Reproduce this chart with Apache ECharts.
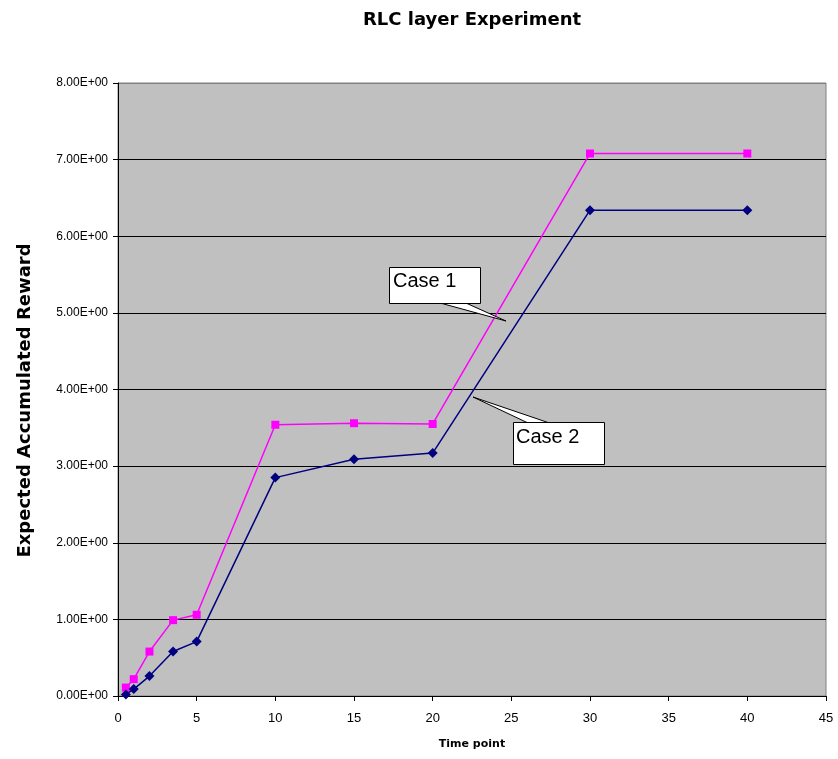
<!DOCTYPE html>
<html>
<head>
<meta charset="utf-8">
<script src="https://cdn.jsdelivr.net/npm/echarts@6/dist/echarts.min.js"></script>
<style>html,body{margin:0;padding:0;background:#fff}#c{width:838px;height:759px}</style>
</head>
<body>
<div id="c"></div>
<script>
const timePoints = [0.5, 1, 2, 3.5, 5, 10, 15, 20, 30, 40];
const case1 = [0.11, 0.22, 0.58, 0.99, 1.06, 3.54, 3.56, 3.55, 7.08, 7.08];
const case2 = [0.02, 0.09, 0.26, 0.58, 0.71, 2.85, 3.09, 3.17, 6.34, 6.34];
const seriesNames = ['Case 1', 'Case 2'];

const chart = echarts.init(document.getElementById('c'));
const font = 'Liberation Sans, Arial, sans-serif';
const boldFont = 'DejaVu Sans, sans-serif';
const pair = (xs, ys) => xs.map((x, i) => [x, ys[i]]);

chart.setOption({
  backgroundColor: '#ffffff',
  animation: false,
  title: {
    text: 'RLC layer Experiment', left: 358, top: 6,
    textStyle: { fontFamily: boldFont, fontSize: 18, fontWeight: 'bold', color: '#000' }
  },
  grid: {
    left: 118, right: 12, top: 83, bottom: 63, show: true,
    backgroundColor: '#C0C0C0', borderColor: '#808080', borderWidth: 1
  },
  xAxis: {
    type: 'value', min: 0, max: 45, interval: 5,
    name: 'Time point', nameLocation: 'middle', nameGap: 43,
    nameTextStyle: { fontFamily: boldFont, fontSize: 11, fontWeight: 'bold', color: '#000' },
    axisLine: { show: true, lineStyle: { color: '#000', width: 1 } },
    axisTick: { show: true, length: 5, lineStyle: { color: '#000' } },
    axisLabel: { fontFamily: font, fontSize: 13, color: '#000', margin: 16 },
    splitLine: { show: false }
  },
  yAxis: {
    type: 'value', min: 0, max: 8, interval: 1,
    name: 'Expected Accumulated Reward', nameLocation: 'middle', nameGap: 84,
    nameTextStyle: { fontFamily: boldFont, fontSize: 18, fontWeight: 'bold', color: '#000', padding: [0, 22, 0, 0] },
    axisLine: { show: true, lineStyle: { color: '#000', width: 1 } },
    axisTick: { show: true, length: 5, lineStyle: { color: '#000' } },
    axisLabel: { fontFamily: font, fontSize: 12, color: '#000', margin: 10,
      formatter: v => v.toFixed(2) + 'E+00' },
    splitLine: { show: true, lineStyle: { color: ['#000','#000','#000','#000','#000','#000','#000','#000','#808080'], width: 1 } }
  },
  series: [
    {
      name: seriesNames[0], type: 'line', data: pair(timePoints, case1),
      symbol: 'rect', symbolSize: 8,
      lineStyle: { color: '#FF00FF', width: 1.5 },
      itemStyle: { color: '#FF00FF' }, z: 3
    },
    {
      name: seriesNames[1], type: 'line', data: pair(timePoints, case2),
      symbol: 'diamond', symbolSize: 10,
      lineStyle: { color: '#000080', width: 1.5 },
      itemStyle: { color: '#000080' }, z: 4
    }
  ]
});

// callout annotations
function callout(text, box, base, tip, textPos) {
  return [
    { type: 'polygon', shape: { points: [base[0], base[1], tip] },
      style: { fill: '#fff', stroke: '#000', lineWidth: 1 }, z: 100 },
    { type: 'rect', shape: { x: box[0], y: box[1], width: box[2], height: box[3] },
      style: { fill: '#fff', stroke: '#000', lineWidth: 1 }, z: 101 },
    { type: 'text', x: textPos[0], y: textPos[1],
      style: { text: text, font: '20px Liberation Sans, Arial, sans-serif', fill: '#000', textVerticalAlign: 'middle' }, z: 102 }
  ];
}
chart.setOption({
  graphic: [].concat(
    callout(seriesNames[0], [389.5, 267.5, 91, 36], [[442, 303.5], [467, 303.5]], [506, 321], [393, 281]),
    callout(seriesNames[1], [513.5, 422.5, 91, 42], [[527, 422.5], [548, 422.5]], [473, 397], [516, 437])
  )
});
</script>
</body>
</html>
